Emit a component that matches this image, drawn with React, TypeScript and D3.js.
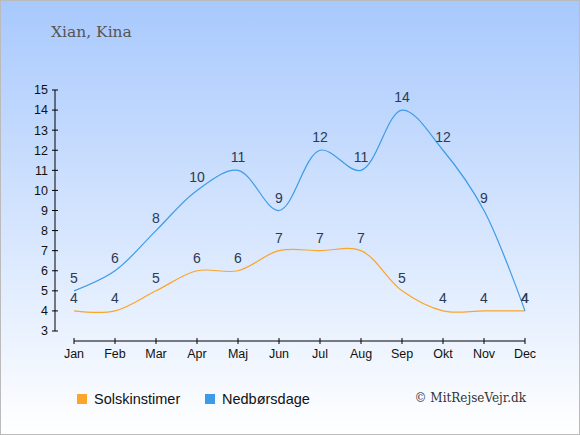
import * as d3 from 'd3'

const months = ['Jan', 'Feb', 'Mar', 'Apr', 'Maj', 'Jun', 'Jul', 'Aug', 'Sep', 'Okt', 'Nov', 'Dec']
const sunHours = [4, 4, 5, 6, 6, 7, 7, 7, 5, 4, 4, 4]
const rainDays = [5, 6, 8, 10, 11, 9, 12, 11, 14, 12, 9, 4]
const yTicks = [3, 4, 5, 6, 7, 8, 9, 10, 11, 12, 13, 14, 15]

const W = 580
const H = 435

export default function App() {
  const x = d3.scalePoint<string>().domain(months).range([74, 525])
  const y = d3.scaleLinear().domain([3, 15]).range([331, 90])

  const line = d3
    .line<number>()
    .x((_, i) => x(months[i]) ?? 0)
    .y(d => y(d))
    .curve(d3.curveCatmullRom.alpha(0.5))

  const series = [
    { name: 'Solskinstimer', values: sunHours, color: '#fba52a' },
    { name: 'Nedbørsdage', values: rainDays, color: '#3e9be8' },
  ]

  return (
    <div style={{ position: 'fixed', left: 0, top: 0 }}>
      <svg width={W} height={H} style={{ display: 'block' }}>
        <defs>
          <linearGradient id="bg" x1="0" x2="0" y1="0" y2="1">
            <stop offset="0%" stopColor="#a8c9fd" />
            <stop offset="100%" stopColor="#ffffff" />
          </linearGradient>
        </defs>
        <rect x={0.5} y={0.5} width={W - 1} height={H - 1} fill="url(#bg)" stroke="#bbbbbb" />

        <text x={51} y={37} fontFamily="DejaVu Serif" fontSize={15.5} fill="#555">
          Xian, Kina
        </text>

        {/* y axis */}
        <line x1={55} x2={55} y1={y(15)} y2={y(3)} stroke="#000" />
        {yTicks.map(t => (
          <g key={t} transform={`translate(0,${y(t)})`}>
            <line x1={52} x2={58} stroke="#000" />
            <text x={48} dy="0.35em" textAnchor="end" fontFamily="Liberation Sans, Arial" fontSize={12.5} fill="#111">
              {t}
            </text>
          </g>
        ))}

        {/* x axis */}
        <line x1={x('Jan')} x2={x('Dec')} y1={341} y2={341} stroke="#000" />
        {months.map(m => (
          <g key={m} transform={`translate(${x(m)},341)`}>
            <line y1={-3} y2={3} stroke="#000" />
            <text y={17} textAnchor="middle" fontFamily="Liberation Sans, Arial" fontSize={12.5} fill="#111">
              {m}
            </text>
          </g>
        ))}

        {series.map(s => (
          <path key={s.name} d={line(s.values) ?? ''} fill="none" stroke={s.color} strokeWidth={1.2} />
        ))}

        {series.map(s =>
          s.values.map((v, i) => (
            <text
              key={s.name + i}
              x={x(months[i])}
              y={y(v) - 8}
              textAnchor="middle"
              fontFamily="Liberation Sans, Arial"
              fontSize={14}
              fill="#2b3a55"
            >
              {v}
            </text>
          ))
        )}

        {/* legend */}
        {series.map((s, i) => (
          <g key={s.name} transform={`translate(${i === 0 ? 77 : 205},394)`}>
            <rect width={10} height={10} fill={s.color} />
            <text x={17} y={9.5} fontFamily="Liberation Sans, Arial" fontSize={14.5} fill="#111">
              {s.name}
            </text>
          </g>
        ))}

        <text x={526} y={402} textAnchor="end" fontFamily="DejaVu Serif" fontSize={12} fill="#333">
          © MitRejseVejr.dk
        </text>
      </svg>
    </div>
  )
}
